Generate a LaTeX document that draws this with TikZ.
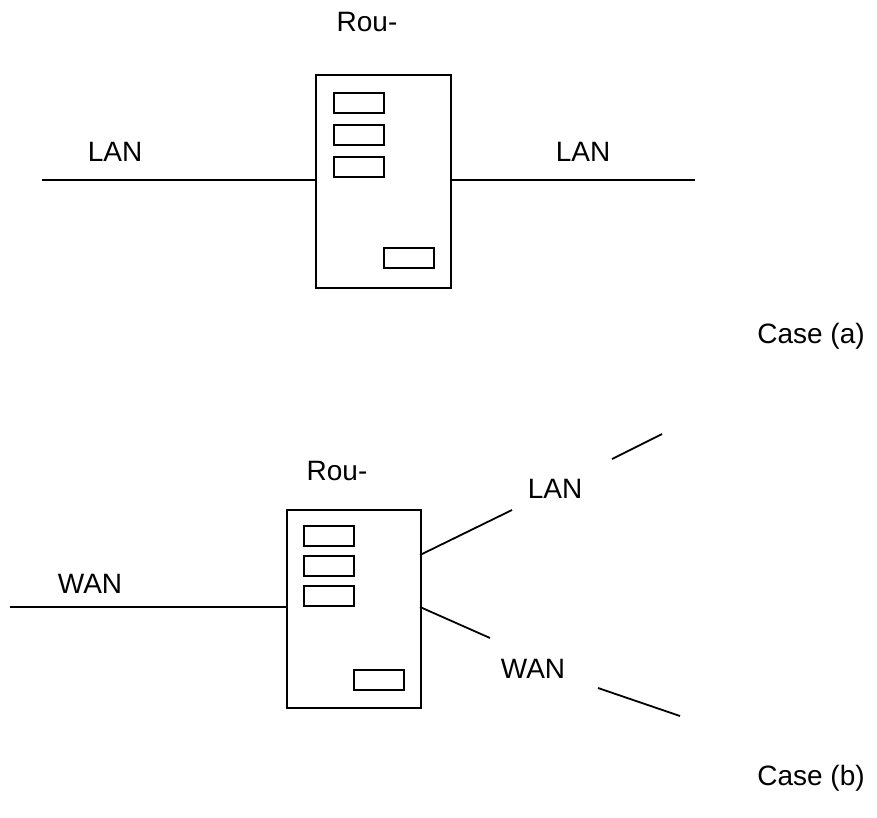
\documentclass[tikz,border=0pt]{standalone}
\usepackage{fontspec}
\setmainfont{Liberation Sans}
\begin{document}
\begin{tikzpicture}[x=1pt,y=-1pt,
  lbl/.style={font=\fontsize{28}{33}\selectfont, inner sep=0pt, anchor=base},
  wire/.style={line width=1.8pt},
  thickwire/.style={line width=2.4pt},
  router/.style={draw, line width=1.8pt, inner sep=0pt, anchor=north west},
  slot/.style={draw, line width=1.8pt, inner sep=0pt, anchor=north west, minimum width=50pt, minimum height=20pt}
]
\useasboundingbox (0,0) rectangle (877,818);
% ---- Case (a)
\node[router, minimum width=135pt, minimum height=213pt] (ra) at (315,74) {};
\node[slot] (ra1) at (333,92) {};
\node[slot] (ra2) at (333,124) {};
\node[slot] (ra3) at (333,156) {};
\node[slot] (ra4) at (383,247) {};
\coordinate (aL) at (42,180);
\coordinate (aR) at (695,180);
\draw[wire] (aL) -- (aL -| ra.west);
\draw[thickwire] (aR -| ra.east) -- (aR);
\node[lbl] (rouA) at (367,32) {Rou-};
\node[lbl] (lanA1) at (115,162) {LAN};
\node[lbl] (lanA2) at (583,162) {LAN};
\node[lbl] (caseA) at (811,343) {Case (a)};
% ---- Case (b)
\node[router, minimum width=134pt, minimum height=198pt] (rb) at (286,509) {};
\node[slot] (rb1) at (303,525) {};
\node[slot] (rb2) at (303,555) {};
\node[slot] (rb3) at (303,585) {};
\node[slot] (rb4) at (353,669) {};
\coordinate (bL) at (10,607);
\coordinate (lanS) at (420,555);
\coordinate (lanE1) at (512,510);
\coordinate (lanS2) at (612,459);
\coordinate (lanE2) at (662,434);
\coordinate (wanS) at (420,607);
\coordinate (wanE1) at (490,638);
\coordinate (wanS2) at (598,688);
\coordinate (wanE2) at (680,716);
\draw[wire] (bL) -- (bL -| rb.west);
\draw[wire] (lanS) -- (lanE1);
\draw[wire] (lanS2) -- (lanE2);
\draw[wire] (wanS) -- (wanE1);
\draw[wire] (wanS2) -- (wanE2);
\node[lbl] (rouB) at (337,480) {Rou-};
\node[lbl] (lanB) at (555,498) {LAN};
\node[lbl] (wanB1) at (90,593) {WAN};
\node[lbl] (wanB2) at (533,678) {WAN};
\node[lbl] (caseB) at (811,785) {Case (b)};
\end{tikzpicture}
\end{document}
